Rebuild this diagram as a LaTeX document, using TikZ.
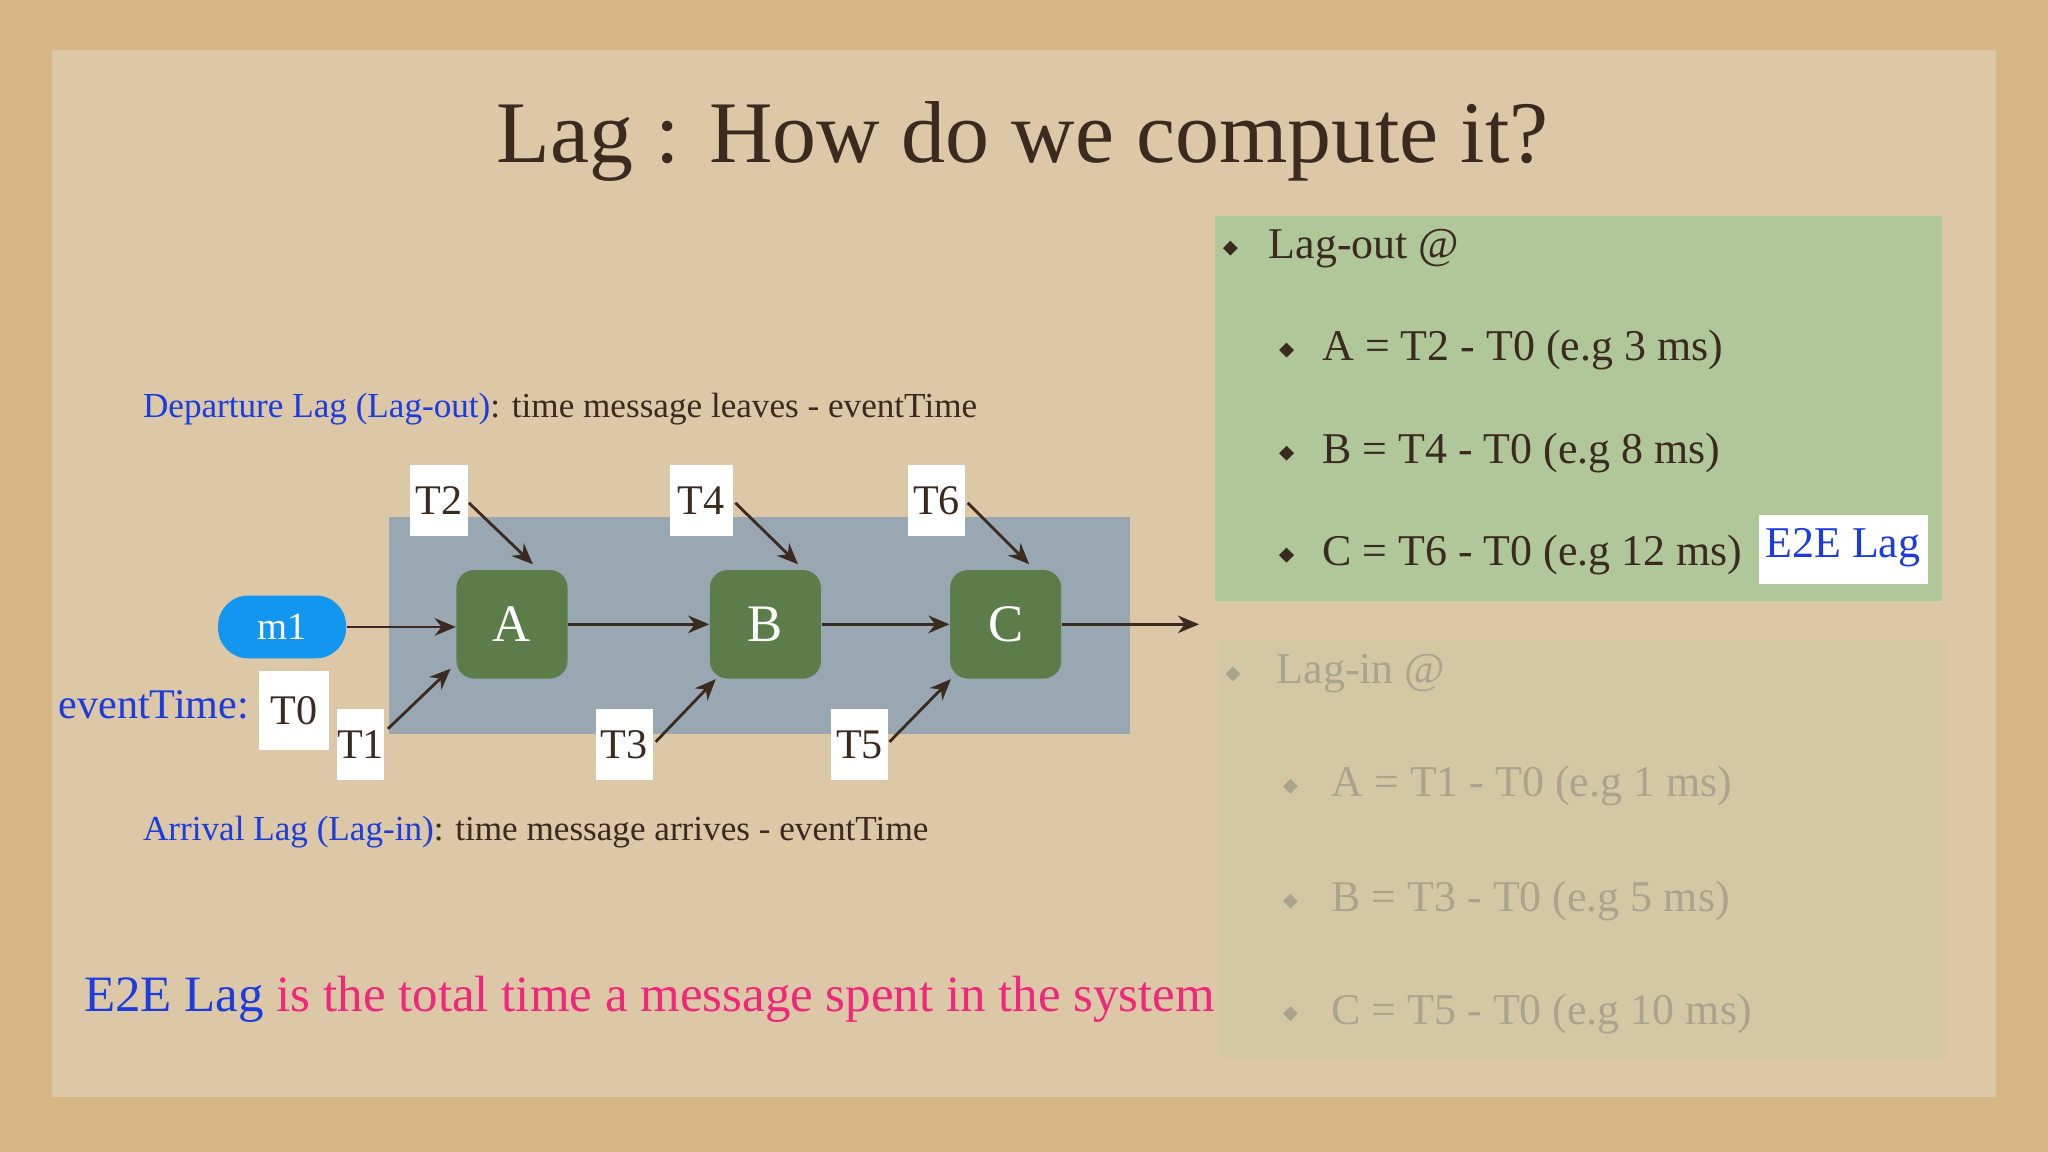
\documentclass[tikz,border=0pt]{standalone}
\usepackage{fontspec}
\setmainfont{Liberation Serif}
\usetikzlibrary{arrows.meta}
\definecolor{tanbg}{HTML}{D6B685}
\definecolor{paper}{HTML}{DCC7A6}
\definecolor{greenbox}{HTML}{B0C79A}
\definecolor{fadebox}{HTML}{CFC8A4}
\definecolor{fadetxt}{HTML}{ABA48C}
\definecolor{sysbox}{HTML}{98A7B1}
\definecolor{nodegreen}{HTML}{5C7D4A}
\definecolor{pillblue}{HTML}{1296F0}
\definecolor{txt}{HTML}{3A2A20}
\definecolor{lblue}{HTML}{1A3CE0}
\definecolor{pink}{HTML}{F0287C}
\tikzset{
  proc/.style={rounded corners=5pt,fill=nodegreen,text=white,font=\fontsize{15}{15}\selectfont},
  tbox/.style={fill=white,text=txt,font=\fontsize{12}{12}\selectfont,inner sep=0pt},
  arr/.style={-{Stealth[length=6pt,width=5pt]},thick,color=txt},
  item/.style={anchor=west,font=\fontsize{12.5}{12.5}\selectfont,text=txt},
  fitem/.style={anchor=west,font=\fontsize{12.5}{12.5}\selectfont,text=fadetxt},
  bul/.style={fill=txt,minimum size=3pt,inner sep=0pt,rotate=45},
  fbul/.style={fill=fadetxt,minimum size=3pt,inner sep=0pt,rotate=45},
}
\begin{document}
\begin{tikzpicture}[x=0.013061cm,y=-0.013061cm]
\useasboundingbox (0,0) rectangle (1568,882);
\fill[tanbg] (0,0) rectangle (1568,882);
\fill[paper] (40,38) rectangle (1528,840);
\node[text=txt,font=\fontsize{25}{25}\selectfont] (title) at (783,108) {Lag : How do we compute it?};
% green box
\fill[greenbox] (930,165) rectangle (1487,460);
\node[bul] (b0) at (942,190) {};
\node[item] (t0) at (962,190) {Lag-out @};
\node[bul] (b1) at (985,268) {};
\node[item] (t1) at (1003,268) {A = T2 - T0 (e.g 3 ms)};
\node[bul] (b2) at (985,347) {};
\node[item] (t2) at (1003,347) {B = T4 - T0 (e.g 8 ms)};
\node[bul] (b3) at (985,425) {};
\node[item] (t3) at (1003,425) {C = T6 - T0 (e.g 12 ms)};
\fill[white] (1347,394) rectangle (1476,447);
\node[text=lblue,font=\fontsize{12.5}{12.5}\selectfont] (e2e) at (1411,419) {E2E Lag};
% faded box
\fill[fadebox,opacity=0.6] (933,490) rectangle (1490,810);
\node[fbul] (f0) at (944,516) {};
\node[fitem] (g0) at (968,516) {Lag-in @};
\node[fbul] (f1) at (988,602) {};
\node[fitem] (g1) at (1010,602) {A = T1 - T0 (e.g 1 ms)};
\node[fbul] (f2) at (988,690) {};
\node[fitem] (g2) at (1010,690) {B = T3 - T0 (e.g 5 ms)};
\node[fbul] (f3) at (988,776) {};
\node[fitem] (g3) at (1010,776) {C = T5 - T0 (e.g 10 ms)};
% system
\fill[sysbox] (298,396) rectangle (865,562);
\node[proc,minimum width=85*0.013061cm,minimum height=83*0.013061cm] (A) at (392,478) {A};
\node[proc,minimum width=85*0.013061cm,minimum height=83*0.013061cm] (B) at (586,478) {B};
\node[proc,minimum width=85*0.013061cm,minimum height=83*0.013061cm] (C) at (770,478) {C};
\node[fill=pillblue,text=white,rounded corners=23*0.013061cm,minimum width=98*0.013061cm,minimum height=48*0.013061cm,font=\fontsize{11}{11}\selectfont] (m1) at (216,480) {m1};
\coordinate (out) at (918,478);
\draw[arr] (m1.east) -- (A.west |- m1.east);
\draw[arr] (A.east) -- (B.west);
\draw[arr] (B.east) -- (C.west);
\draw[arr] (C.east) -- (out);
\node[tbox,minimum width=44*0.013061cm,minimum height=54*0.013061cm] (T2) at (336,383) {T2};
\node[tbox,minimum width=48*0.013061cm,minimum height=54*0.013061cm] (T4) at (537,383) {T4};
\node[tbox,minimum width=44*0.013061cm,minimum height=54*0.013061cm] (T6) at (717,383) {T6};
\node[tbox,minimum width=36*0.013061cm,minimum height=54*0.013061cm] (T1) at (276,570) {T1};
\node[tbox,minimum width=44*0.013061cm,minimum height=54*0.013061cm] (T3) at (478,570) {T3};
\node[tbox,minimum width=44*0.013061cm,minimum height=54*0.013061cm] (T5) at (658,570) {T5};
\node[tbox,minimum width=54*0.013061cm,minimum height=60*0.013061cm] (T0) at (225,544) {T0};
\coordinate (A1) at (408,432); \coordinate (B1) at (611,432); \coordinate (C1) at (788,432);
\coordinate (A2) at (345,512); \coordinate (B2) at (548,520); \coordinate (C2) at (728,520);
\draw[arr] (359,385) -- (A1);
\draw[arr] (563,385) -- (B1);
\draw[arr] (741,385) -- (C1);
\draw[arr] (297,558) -- (A2);
\draw[arr] (502,568) -- (B2);
\draw[arr] (681,568) -- (C2);
\node[anchor=east,text=lblue,font=\fontsize{12}{12}\selectfont,inner sep=1pt] (ev) at (194,540) {eventTime:};
\node[anchor=west,font=\fontsize{10}{10}\selectfont,text=txt] (dep) at (100,313) {\textcolor{lblue}{Departure Lag (Lag-out)}: time message leaves - eventTime};
\node[anchor=west,font=\fontsize{10}{10}\selectfont,text=txt] (arrl) at (100,637) {\textcolor{lblue}{Arrival Lag (Lag-in)}: time message arrives - eventTime};
\node[anchor=west,font=\fontsize{14.5}{14.5}\selectfont,text=pink] (bot) at (55,765) {\textcolor{lblue}{E2E Lag} is the total time a message spent in the system};
\end{tikzpicture}
\end{document}
